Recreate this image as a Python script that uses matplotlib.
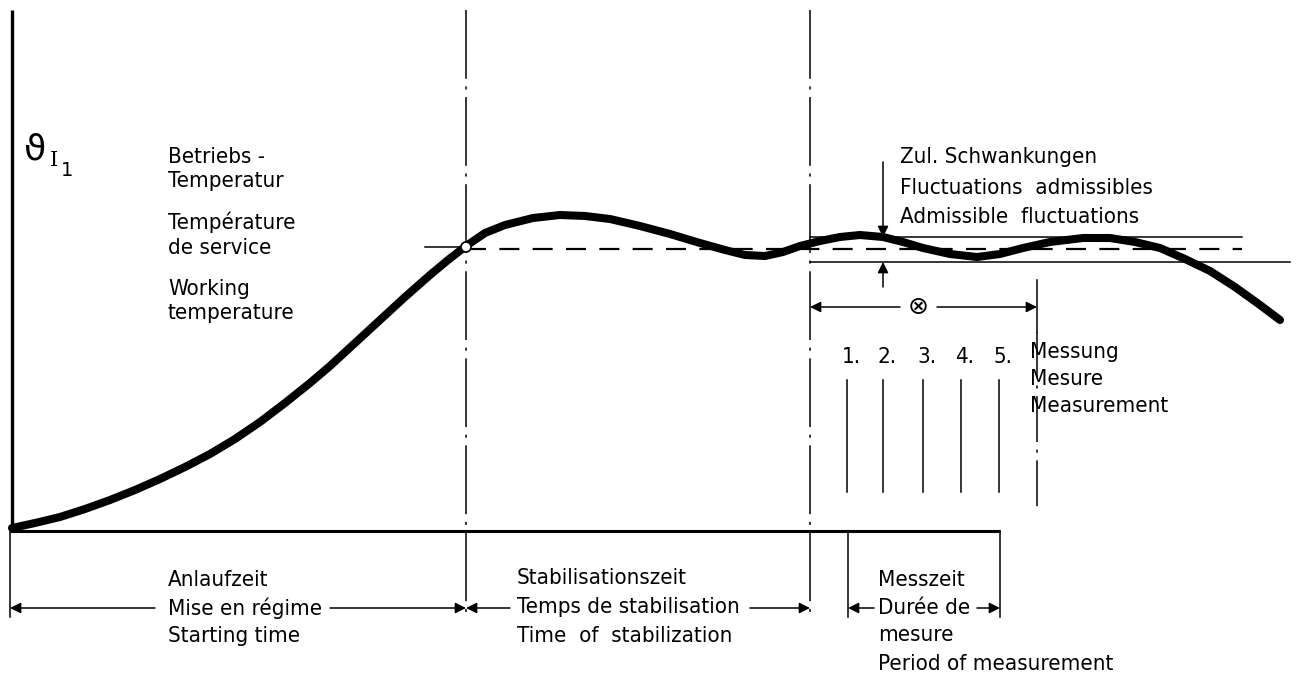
import matplotlib.pyplot as plt
from matplotlib.patches import Circle

# picture coordinates: x = time (px), y = temperature (px, downward)
curve_t = [12, 35, 60, 85, 110, 135, 160, 185, 210, 235, 260, 285, 310, 330, 355, 380, 405,
           430, 448, 466, 485, 505, 533, 560, 585, 610, 640, 670, 700, 725, 745, 765, 783,
           800, 820, 840, 860, 883, 903, 923, 950, 977, 1000, 1023, 1050, 1083, 1110, 1135,
           1160, 1185, 1210, 1235, 1260, 1280]
curve_temp = [528, 523, 517, 509, 500, 490, 479, 467, 454, 439, 422, 403, 383, 366, 343, 320, 297,
              275, 260, 246, 233, 225, 218, 215, 216, 219, 226, 234, 243, 250, 255, 256, 252,
              246, 241, 237, 235, 237, 242, 248, 254, 257, 254, 248, 242, 238, 238, 242,
              248, 259, 271, 287, 305, 320]

t_start, t_work, t_stable, t_meas_end, t_period_start, t_period_end = 10, 466, 810, 1037, 848, 1000
temp_work = 247
band_hi, band_lo = 237, 262
meas_t = [847, 883, 923, 961, 999]
meas_labels = ['1.', '2.', '3.', '4.', '5.']

FONT = ['DejaVu Sans']
FS = 16
LW_THIN = 1.1

fig = plt.figure(figsize=(12.97, 6.80), dpi=100, facecolor='white')
ax = fig.add_axes([0, 0, 1, 1])
ax.set_xlim(0, 1297)
ax.set_ylim(680, 0)
ax.axis('off')

# axes
ax.plot([12, 12], [10, 531], color='black', lw=2.4, solid_capstyle='butt')
ax.plot([10, 1000], [531, 531], color='black', lw=2.2, solid_capstyle='butt')

# phase boundaries (dash-dot)
dashdot = (0, (45, 5, 2, 5))
for x in [t_work, t_stable]:
    ax.plot([x, x], [10, 617], color='black', lw=LW_THIN, linestyle=dashdot)
ax.plot([t_meas_end, t_meas_end], [280, 332], color='black', lw=LW_THIN)
ax.plot([t_meas_end, t_meas_end], [332, 512], color='black', lw=LW_THIN, linestyle=(0, (30, 5, 2, 5)))

# extension lines below the time axis
ax.plot([t_start, t_start], [531, 617], color='black', lw=LW_THIN)
for x in [t_period_start, t_period_end]:
    ax.plot([x, x], [531, 617], color='black', lw=LW_THIN)

# working temperature
ax.plot([425, t_work], [temp_work, temp_work], color='black', lw=LW_THIN)
ax.plot([t_work, 1242], [temp_work + 2, temp_work + 2], color='black', lw=1.6, linestyle=(0, (9, 6)))

# admissible fluctuation band
ax.plot([t_stable, 1242], [band_hi, band_hi], color='black', lw=LW_THIN)
ax.plot([t_stable, 1290], [band_lo, band_lo], color='black', lw=LW_THIN)

# temperature curve
ax.plot(curve_t, curve_temp, color='black', lw=5.8, solid_capstyle='round', solid_joinstyle='round')
ax.add_patch(Circle((t_work, temp_work), 5, facecolor='white', edgecolor='black', lw=1.2, zorder=5))

arrow = dict(arrowstyle='-|>', color='black', lw=LW_THIN, mutation_scale=16, shrinkA=0, shrinkB=0)

def dim_arrow(x0, x1, y):
    ax.annotate('', xy=(x1, y), xytext=(x0, y), arrowprops=arrow)

ax.annotate('', xy=(883, band_hi), xytext=(883, 162), arrowprops=arrow)
ax.annotate('', xy=(883, band_lo), xytext=(883, 287), arrowprops=arrow)

# measurement interval
dim_arrow(900, t_stable, 307)
dim_arrow(937, t_meas_end, 307)
ax.text(918, 307, '⊗', fontsize=18, ha='center', va='center', family='DejaVu Sans')

for x, lab in zip(meas_t, meas_labels):
    ax.plot([x, x], [380, 492], color='black', lw=LW_THIN)
    ax.text(x + 4, 357, lab, fontsize=FS, ha='center', va='center', family=FONT, stretch='condensed')

# time dimension lines
y_dim = 608
dim_arrow(155, t_start, y_dim)
dim_arrow(330, t_work, y_dim)
dim_arrow(510, t_work, y_dim)
dim_arrow(750, t_stable, y_dim)
dim_arrow(874, t_period_start, y_dim)
dim_arrow(977, t_period_end, y_dim)

def block(x, ys, lines):
    for y, s in zip(ys, lines):
        ax.text(x, y, s, fontsize=FS, ha='left', va='center', family=FONT, stretch='condensed')

block(168, [157, 181, 222, 248, 289, 313],
      ['Betriebs -', 'Temperatur', 'Température', 'de service', 'Working', 'temperature'])
block(900, [157, 188, 217], ['Zul. Schwankungen', 'Fluctuations  admissibles', 'Admissible  fluctuations'])
block(1030, [352, 379, 406], ['Messung', 'Mesure', 'Measurement'])
block(168, [580, 608, 636], ['Anlaufzeit', 'Mise en régime', 'Starting time'])
block(517, [578, 607, 636], ['Stabilisationszeit', 'Temps de stabilisation', 'Time  of  stabilization'])
block(878, [580, 608, 635, 664], ['Messzeit', 'Durée de', 'mesure', 'Period of measurement'])

# axis symbol
ax.text(24, 150, 'ϑ', fontsize=26, ha='left', va='center', family='DejaVu Sans')
ax.text(50, 160, 'I', fontsize=15, ha='left', va='center', family='DejaVu Serif')
ax.text(61, 171, '1', fontsize=14, ha='left', va='center', family=FONT)

fig.savefig('out.png', dpi=100, facecolor='white')
